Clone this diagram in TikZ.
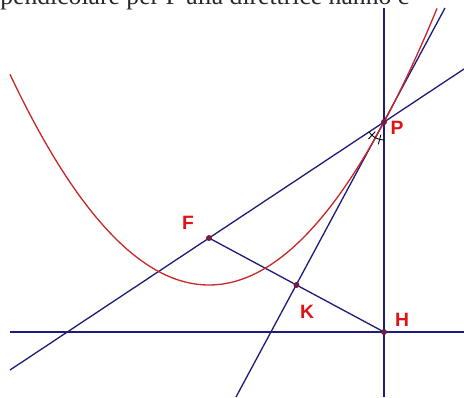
\documentclass[tikz,border=0pt]{standalone}
\usepackage{fontspec}
\setmainfont{Liberation Serif}
\setsansfont{Liberation Sans}
\usetikzlibrary{positioning,calc}
\definecolor{navy}{HTML}{1e1e78}
\definecolor{curve}{HTML}{c82828}
\definecolor{lblred}{HTML}{e01414}
\definecolor{dotred}{HTML}{7a1a40}
\definecolor{caption}{HTML}{282828}

\begin{document}
\begin{tikzpicture}[x=0.02cm,y=0.02cm,
  line/.style={draw=navy,line width=0.75pt},
  parab/.style={draw=curve,line width=0.75pt},
  pt/.style={circle,fill=dotred,inner sep=0pt,minimum size=3.2pt},
  lbl/.style={font=\sffamily\bfseries\fontsize{11}{13}\selectfont,text=lblred,inner sep=0pt},
  tick/.style={draw=black,line width=0.5pt}]
  \clip (0,0) rectangle (464,397);
  \fill[white] (0,0) rectangle (464,397);
  % caption line, cut off at the top
  \node[anchor=base west,inner sep=0pt,text=caption,font=\fontsize{14.6}{17}\selectfont] (cap) at (0,393) {pendicolare per P alla direttrice hanno c};

  \node[pt] (F) at (209,159) {};
  \node[pt] (P) at (384,275) {};
  \node[pt] (H) at (384,65) {};
  \node[pt] (K) at ($(F)!0.5!(H)$) {};
  \coordinate (vtop) at (384,389);
  \coordinate (vbot) at (384,0);
  \coordinate (dl) at (10,65);
  \coordinate (dr) at (464,65);
  \coordinate (fpl) at (10,27);
  \coordinate (fpr) at (464,328);
  \coordinate (tb) at (236,0);
  \coordinate (tt) at (445,389);

  \draw[line] (dl) -- (dr);
  \draw[line] (vtop) -- (vbot);
  \draw[line] (fpl) -- (fpr);
  \draw[line] (tb) -- (tt);
  \draw[line] (F.center) -- (H.center);
  \draw[parab] plot[domain=10:437,samples=90,smooth] (\x,{112+((\x-209)/13.7113)^2});

  % equal angles at P
  \draw[tick] ([shift={(213.5:18)}]P.center) arc[start angle=213.5,end angle=241.8,radius=0.36cm];
  \draw[tick] ([shift={(241.8:18)}]P.center) arc[start angle=241.8,end angle=270,radius=0.36cm];
  \draw[tick] ($(P.center)+(227.6:13)$) -- ($(P.center)+(227.6:23)$);
  \draw[tick] ($(P.center)+(255.9:13)$) -- ($(P.center)+(255.9:23)$);

  \node[pt] at (F) {};
  \node[pt] at (P) {};
  \node[pt] at (H) {};
  \node[pt] at (K) {};

  \node[lbl] (labF) at ([shift={(-21,15)}]F) {F};
  \node[lbl] (labP) at ([shift={(13,-6)}]P) {P};
  \node[lbl] (labK) at ([shift={(10.5,-27)}]K) {K};
  \node[lbl] (labH) at ([shift={(18,12)}]H) {H};
\end{tikzpicture}
\end{document}
